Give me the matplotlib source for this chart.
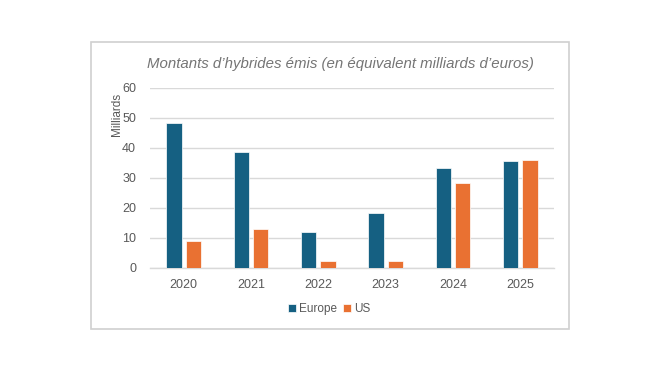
import matplotlib
matplotlib.use("Agg")
import matplotlib.pyplot as plt
from matplotlib.patches import Rectangle
import numpy as np

years = ["2020", "2021", "2022", "2023", "2024", "2025"]
europe = [48.2, 38.6, 11.9, 18.1, 33.2, 35.6]
us = [8.8, 13.0, 2.3, 2.4, 28.3, 35.8]
series_names = ["Europe", "US"]
colors = ["#156082", "#E97132"]
yticks = [0, 10, 20, 30, 40, 50, 60]

plt.rcParams['font.family'] = ['Liberation Sans', 'DejaVu Sans']
fig = plt.figure(figsize=(6.5, 3.66), dpi=100)
fig.patch.set_facecolor("white")

# outer frame
fig.patches.append(Rectangle((91/650, 1-329/366), (569-91)/650, (329-42)/366,
                             transform=fig.transFigure, fill=False,
                             edgecolor="#D0D0D0", linewidth=1.2))

ax = fig.add_axes([150/650, 1-267.7/366, (554-150)/650, 180/366])
x = np.arange(len(years))
w = 0.225
gap = 0.03
ax.bar(x - w/2 - gap, europe, w, color=colors[0], edgecolor="white", linewidth=0.5, label=series_names[0], zorder=3)
ax.bar(x + w/2 + gap, us, w, color=colors[1], edgecolor="white", linewidth=0.5, label=series_names[1], zorder=3)

ax.set_xlim(-0.5, len(years) - 0.5)
ax.set_ylim(0, 60)
ax.set_yticks(yticks)
ax.set_xticks(x)
ax.set_xticklabels(years)
ax.yaxis.grid(True, color="#D9D9D9", linewidth=1.0, zorder=0)
ax.set_axisbelow(True)
for s in ["top", "right", "left"]:
    ax.spines[s].set_visible(False)
ax.spines["bottom"].set_color("#D9D9D9")
ax.spines["bottom"].set_linewidth(1.0)
ax.tick_params(axis="both", length=0, colors="#595959", labelsize=9)
ax.tick_params(axis="x", pad=8)
ax.tick_params(axis="y", pad=10)
ax.set_ylabel("Milliards", color="#595959", fontsize=8.5)
ax.yaxis.set_label_coords(-0.068, 0.85)

fig.text(340/650, 1-64/366, "Montants d\u2019hybrides \u00e9mis (en \u00e9quivalent milliards d\u2019euros)",
         ha="center", va="center", fontsize=10.8, style="italic", color="#757575")

leg = fig.legend(loc="center", bbox_to_anchor=(329/650, 1-309/366), ncol=2, frameon=False,
                 fontsize=8.5, handlelength=0.7, handleheight=0.7, handletextpad=0.25,
                 columnspacing=0.5, labelcolor="#595959")

fig.savefig("out.png", dpi=100, facecolor="white")
